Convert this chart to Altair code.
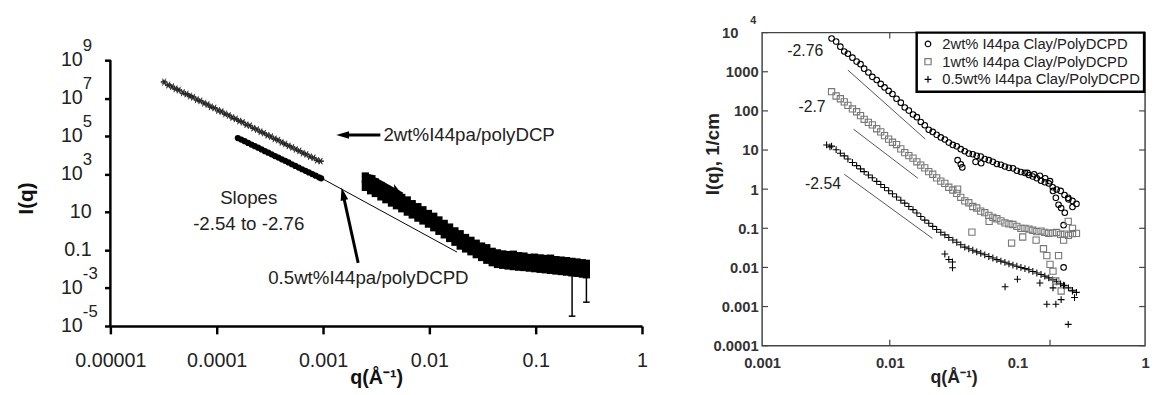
import altair as alt
import pandas as pd

FONT = "Liberation Sans"

# ======================= LEFT PANEL DATA =======================
L_q_low = [3.2e-5, 3.5e-5, 3.8e-5, 4.1e-5, 4.4e-5, 4.8e-5, 5.2e-5, 5.6e-5, 6.0e-5, 6.5e-5,
           7.0e-5, 7.6e-5, 8.2e-5, 8.8e-5, 9.5e-5, 1.03e-4, 1.11e-4, 1.2e-4, 1.3e-4, 1.4e-4,
           1.51e-4, 1.63e-4, 1.76e-4, 1.9e-4, 2.05e-4, 2.21e-4, 2.39e-4, 2.58e-4, 2.78e-4, 3.0e-4,
           3.24e-4, 3.5e-4, 3.78e-4, 4.08e-4, 4.4e-4, 4.75e-4, 5.13e-4, 5.54e-4, 5.98e-4, 6.46e-4,
           6.97e-4, 7.53e-4, 8.13e-4, 8.78e-4, 9.48e-4]
L_I_2wt_low = [6.5e7, 5.2e7, 3.8e7, 3.3e7, 2.5e7, 2.1e7, 1.55e7, 1.38e7, 1.05e7, 8.9e6,
               6.8e6, 5.8e6, 4.4e6, 3.7e6, 2.9e6, 2.4e6, 1.86e6, 1.58e6, 1.17e6, 1.02e6,
               7.6e5, 6.6e5, 5.1e5, 4.2e5, 3.4e5, 2.75e5, 2.1e5, 1.8e5, 1.38e5, 1.17e5,
               8.9e4, 7.6e4, 5.9e4, 4.9e4, 3.7e4, 3.2e4, 2.4e4, 2.1e4, 1.58e4, 1.35e4,
               1.05e4, 8.7e3, 6.9e3, 5.6e3, 4.6e3]
# second, slightly scattered set of the same 2wt low-q measurement
L_I_2wt_low_b = [7.6e7, 4.6e7, 4.3e7, 2.9e7, 2.8e7, 1.8e7, 1.75e7, 1.2e7, 1.2e7, 7.8e6,
                 7.6e6, 5.1e6, 4.9e6, 3.3e6, 3.2e6, 2.1e6, 2.1e6, 1.4e6, 1.3e6, 9.0e5,
                 8.5e5, 5.9e5, 5.6e5, 3.8e5, 3.7e5, 2.5e5, 2.35e5, 1.6e5, 1.5e5, 1.05e5,
                 1.0e5, 6.8e4, 6.5e4, 4.4e4, 4.1e4, 2.9e4, 2.7e4, 1.9e4, 1.75e4, 1.2e4,
                 1.15e4, 7.9e3, 7.6e3, 5.1e3, 5.0e3]
L_q_05 = [1.58e-4, 1.7e-4, 1.83e-4, 1.97e-4, 2.12e-4, 2.28e-4, 2.45e-4, 2.64e-4, 2.84e-4, 3.05e-4,
          3.28e-4, 3.53e-4, 3.8e-4, 4.09e-4, 4.4e-4, 4.73e-4, 5.09e-4, 5.48e-4, 5.9e-4, 6.35e-4,
          6.83e-4, 7.35e-4, 7.91e-4, 8.51e-4, 9.16e-4, 9.6e-4]
L_I_05 = [7.9e4, 6.6e4, 5.4e4, 4.4e4, 3.6e4, 2.95e4, 2.45e4, 2.0e4, 1.62e4, 1.35e4,
          1.1e4, 8.9e3, 7.4e3, 6.0e3, 5.0e3, 4.1e3, 3.3e3, 2.7e3, 2.2e3, 1.8e3,
          1.5e3, 1.23e3, 1.0e3, 830, 680, 600]
L_q_hq = [0.0025, 0.0028, 0.0031, 0.0035, 0.0039, 0.0044, 0.0049, 0.0055, 0.0062, 0.0069,
          0.0078, 0.0087, 0.0098, 0.011, 0.0123, 0.0138, 0.0155, 0.0174, 0.0195, 0.0219,
          0.0246, 0.0276, 0.031, 0.0347, 0.039, 0.0437, 0.049, 0.055, 0.0617, 0.0692,
          0.0776, 0.0871, 0.0977, 0.11, 0.123, 0.138, 0.155, 0.174, 0.195, 0.219,
          0.245, 0.275, 0.3]
L_I_hq_2wt = [660, 480, 320, 210, 140, 100, 71, 49, 36, 23,
              16, 11, 7.0, 5.0, 3.2, 2.1, 1.35, 0.85, 0.6, 0.38,
              0.27, 0.19, 0.135, 0.11, 0.071, 0.059, 0.052, 0.048, 0.05, 0.042,
              0.040, 0.034, 0.035, 0.032, 0.030, 0.031, 0.026, 0.0245, 0.023, 0.021,
              0.0195, 0.0178, 0.0166]
L_I_hq_05 = [240, 160, 115, 76, 54, 36, 26, 18, 12, 8.5,
             5.8, 4.1, 2.8, 1.8, 1.17, 0.76, 0.49, 0.31, 0.195, 0.138,
             0.098, 0.069, 0.049, 0.035, 0.026, 0.021, 0.019, 0.0174, 0.0162, 0.0151,
             0.0145, 0.0135, 0.0126, 0.0117, 0.011, 0.0102, 0.0095, 0.0089, 0.0083, 0.0076,
             0.0071, 0.0065, 0.006]
L_err_q = [0.22, 0.30]
L_err_lo = [3.3e-5, 1.8e-4]
L_err_hi = [0.02, 0.015]
L_fit = {"q": [7.4e-4], "I": [1380], "q2": [0.0182], "I2": [0.078]}
L_axis_line = {"I": [1e-5], "I2": [1e9]}

# annotation arrows (tail -> tip)
L_ann_arrow_q = [3.46e-3, 2.14e-3]
L_ann_arrow_I = [1.15e5, 0.021]
L_ann_arrow_q2 = [1.53e-3, 1.54e-3]
L_ann_arrow_I2 = [1.15e5, 91]
# arrow-shaped data tails at start of high-q data (tail -> head)
L_dat_arrow_q = [5.6e-3, 5.6e-3, 5.2e-3]
L_dat_arrow_I = [89, 27, 60]
L_dat_arrow_q2 = [2.75e-3, 2.82e-3, 4.84e-3]
L_dat_arrow_I2 = [820, 144, 162]

L_text = ["2wt%I44pa/polyDCP", "0.5wt%I44pa/polyDCPD", "Slopes", "-2.54 to -2.76"]
L_text_q = [3.7e-3, 2.67e-3, 2.0e-4, 2.0e-4]
L_text_I = [1.15e5, 3.5e-3, 55, 2.45]

L_xticks = [1e-5, 1e-4, 1e-3, 1e-2, 1e-1, 1]
L_yticks = [1e9, 1e7, 1e5, 1e3, 10, 0.1, 1e-3, 1e-5]
L_ybase = ["10", "10", "10", "10", "10", "0.1", "10", "10"]
L_yexp = ["9", "7", "5", "3", "", "", "-3", "-5"]

# ======================= RIGHT PANEL DATA =======================
R_names = ["2wt% I44pa Clay/PolyDCPD", "1wt% I44pa Clay/PolyDCPD", "0.5wt% I44pa Clay/PolyDCPD"]
R_q = [0.0035, 0.0038, 0.0041, 0.0044, 0.0047, 0.0051, 0.0055, 0.0059, 0.0063, 0.0068,
       0.0073, 0.0079, 0.0085, 0.0091, 0.0098, 0.0105, 0.0113, 0.0122, 0.0131, 0.0141,
       0.0152, 0.0163, 0.0175, 0.0188, 0.0202, 0.0217, 0.0233, 0.0251, 0.027, 0.029,
       0.0312, 0.0335, 0.036, 0.0387, 0.0416, 0.0447, 0.048, 0.0516, 0.0555, 0.0597,
       0.0642, 0.069, 0.0742, 0.0798, 0.0858, 0.0922, 0.099, 0.1065, 0.1145, 0.123,
       0.132, 0.142, 0.153, 0.164, 0.176, 0.189, 0.203, 0.218, 0.234, 0.251,
       0.27, 0.29]
R_I_2wt = [7080, 5900, 4370, 3300, 2880, 2290, 1820, 1560, 1200, 955,
           740, 617, 490, 398, 324, 270, 204, 162, 122, 102,
           81, 69, 52, 43, 33, 29, 24.5, 21, 18.6, 15.5,
           13.5, 12.4, 10.5, 9.3, 8.1, 7.8, 7.1, 6.8, 5.9, 5.5,
           5.0, 4.4, 4.2, 3.8, 3.5, 3.4, 2.95, 2.75, 2.6, 2.3,
           2.1, 1.9, 1.65, 1.5, 1.4, 1.12, 0.98, 0.9, 0.71, 0.55,
           0.5, 0.42]
R_I_1wt = [309, 240, 204, 170, 138, 112, 95, 76, 61, 51,
           44, 35, 29, 23.4, 19.0, 15.8, 13.8, 10.7, 8.6, 7.2,
           6.2, 5.0, 4.1, 3.5, 2.8, 2.4, 1.95, 1.6, 1.4, 1.12,
           0.95, 0.78, 0.62, 0.50, 0.45, 0.36, 0.33, 0.275, 0.25, 0.214,
           0.19, 0.175, 0.155, 0.138, 0.129, 0.125, 0.112, 0.1, 0.1, 0.095,
           0.089, 0.082, 0.085, 0.079, 0.074, 0.076, 0.078, 0.07, 0.071, 0.066,
           0.073, 0.074]
R_I_05 = [12.6, 10.2, 8.3, 7.1, 5.9, 4.8, 4.0, 3.3, 2.8, 2.3,
          1.95, 1.58, 1.32, 1.10, 0.91, 0.76, 0.63, 0.52, 0.44, 0.36,
          0.30, 0.245, 0.20, 0.162, 0.135, 0.112, 0.093, 0.079, 0.068, 0.058,
          0.050, 0.044, 0.038, 0.033, 0.030, 0.0275, 0.025, 0.023, 0.021, 0.019,
          0.0174, 0.0158, 0.0145, 0.0135, 0.0123, 0.0115, 0.0107, 0.01, 0.0093, 0.0087,
          0.0079, 0.0072, 0.0066, 0.006, 0.0054, 0.0048, 0.0043, 0.0038, 0.0034, 0.003,
          0.0026, 0.0023]
R_x2wt_q = [0.034, 0.036, 0.037, 0.047, 0.052, 0.12, 0.135, 0.15, 0.165, 0.18,
            0.19, 0.2, 0.21, 0.22, 0.235, 0.23, 0.23, 0.25, 0.27]
R_x2wt_I = [5.5, 4.3, 3.6, 5.0, 4.6, 2.6, 2.4, 2.2, 1.9, 1.6,
            0.9, 0.6, 0.4, 0.33, 0.25, 0.12, 0.01, 0.6, 0.35]
R_x1wt_q = [0.034, 0.044, 0.06, 0.09, 0.11, 0.14, 0.16, 0.17, 0.18, 0.19,
            0.2, 0.21, 0.22, 0.23, 0.25, 0.27]
R_x1wt_I = [1.0, 0.08, 0.15, 0.042, 0.06, 0.05, 0.03, 0.02, 0.012, 0.008,
            0.0045, 0.02, 0.0025, 0.05, 0.15, 0.1]
R_x05_q = [0.0032, 0.0034, 0.027, 0.029, 0.031, 0.031, 0.08, 0.1, 0.15, 0.17,
           0.19, 0.2, 0.22, 0.23, 0.25, 0.27, 0.28]
R_x05_I = [13.5, 12.0, 0.022, 0.016, 0.0138, 0.0098, 0.0032, 0.005, 0.004, 0.00115,
           0.003, 0.00115, 0.0015, 0.0035, 0.00035, 0.0025, 0.0017]
R_fit_q1 = [0.0047, 0.0052, 0.0044]
R_fit_I1 = [1100, 34, 2.4]
R_fit_q2 = [0.019, 0.0166, 0.0216]
R_fit_I2 = [19, 1.9, 0.055]
R_slope_text = ["-2.76", "-2.7", "-2.54"]
R_slope_q = [0.00218, 0.00246, 0.0030]
R_slope_I = [3300, 123, 1.34]
R_yticks = [1e4, 1e3, 100, 10, 1, 0.1, 0.01, 0.001, 0.0001]
R_xticks = [0.001, 0.01, 0.1, 1]
R_xtickmarks = [0.01, 0.18]

# ======================= LEFT PANEL =======================
LW, LH = 540, 298
L_xaxis = alt.Axis(values=L_xticks, format="~g", labelFont=FONT, labelFontSize=20, labelColor="#222",
                   labelPadding=17, tickSize=8, tickWidth=2.5, tickColor="black", domainColor="black",
                   domainWidth=2.5, grid=False, labelOverlap=False, labelFlush=False,
                   title="q(Å⁻¹)", titleFont=FONT, titleFontSize=20, titleFontWeight="bold",
                   titlePadding=-3, titleColor="#111")
L_yaxis = alt.Axis(values=L_yticks, labels=False, domain=False, tickSize=6, tickWidth=2.5,
                   tickColor="black", grid=False,
                   title="I(q)", titleFont=FONT, titleFontSize=21, titleFontWeight="bold",
                   titleColor="#111", titleX=-85, titleY=168, titleAngle=270, titleAlign="center",
                   titleBaseline="middle")
L_xs = alt.Scale(type="log", domain=[1e-5, 1], nice=False)
L_ys = alt.Scale(type="log", domain=[1e-5, 2.83e10], nice=False)


def LX():
    return alt.X("q:Q", scale=L_xs, axis=L_xaxis)


def LY():
    return alt.Y("I:Q", scale=L_ys, axis=L_yaxis)


df_low2 = pd.DataFrame({"q": L_q_low + L_q_low, "I": L_I_2wt_low + L_I_2wt_low_b})
df_low05 = pd.DataFrame({"q": L_q_05, "I": L_I_05})
df_hq = pd.DataFrame({"q": L_q_hq + L_q_hq, "I": L_I_hq_2wt + L_I_hq_05})
df_err = pd.DataFrame({"q": L_err_q, "I": L_err_lo, "I2": L_err_hi})
df_fit = pd.DataFrame(L_fit)
df_axis = pd.DataFrame(L_axis_line)
df_annarrow = pd.DataFrame({"q": L_ann_arrow_q, "I": L_ann_arrow_I, "q2": L_ann_arrow_q2, "I2": L_ann_arrow_I2})
df_datarrow = pd.DataFrame({"q": L_dat_arrow_q, "I": L_dat_arrow_I, "q2": L_dat_arrow_q2, "I2": L_dat_arrow_I2})
df_ltext = pd.DataFrame({"q": L_text_q, "I": L_text_I, "t": L_text})
df_ylab = pd.DataFrame({"I": L_yticks, "base": L_ybase, "exp": L_yexp})

ASTER = "M-1,0L1,0M-0.5,-0.87L0.5,0.87M-0.5,0.87L0.5,-0.87"
HEAD = "M0,-1L0.6,1L-0.6,1Z"
BAR = "M-0.7,-1L0.7,-1L0.7,1L-0.7,1Z"

l_axisline = alt.Chart(df_axis).mark_rule(color="black", strokeWidth=2.5).encode(
    x=alt.value(0), y=LY(), y2=alt.Y2("I2"))
l_low2 = alt.Chart(df_low2).mark_point(shape=ASTER, filled=False, size=45, strokeWidth=0.9,
                                       color="#222", opacity=1).encode(x=LX(), y=LY())
l_low05 = alt.Chart(df_low05).mark_point(shape="circle", filled=True, size=40, color="black",
                                         opacity=1).encode(x=LX(), y=LY())
l_hq = alt.Chart(df_hq).mark_point(shape=BAR, filled=True, size=110, color="black",
                                   opacity=1).encode(x=LX(), y=LY())
l_err = alt.Chart(df_err).mark_rule(color="black", strokeWidth=1.5).encode(
    x=LX(), y=LY(), y2=alt.Y2("I2"))
l_cap = alt.Chart(df_err).mark_point(shape="M-1,0L1,0", filled=False, size=45, strokeWidth=1.5,
                                     color="black", opacity=1).encode(x=LX(), y=LY())
l_fit = alt.Chart(df_fit).mark_rule(color="black", strokeWidth=1).encode(
    x=LX(), y=LY(), x2=alt.X2("q2"), y2=alt.Y2("I2"))
l_annarrow = alt.Chart(df_annarrow).mark_rule(color="black", strokeWidth=3).encode(
    x=LX(), y=LY(), x2=alt.X2("q2"), y2=alt.Y2("I2"))
l_datarrow = alt.Chart(df_datarrow).mark_rule(color="black", strokeWidth=3).encode(
    x=LX(), y=LY(), x2=alt.X2("q2"), y2=alt.Y2("I2"))

heads = []
for i, ang in enumerate([270, 347]):
    d = pd.DataFrame({"q": [L_ann_arrow_q2[i]], "I": [L_ann_arrow_I2[i]]})
    heads.append(alt.Chart(d).mark_point(shape=HEAD, filled=True, size=170, angle=ang, color="black",
                                         opacity=1).encode(x=LX(), y=LY()))
for i, ang in enumerate([299, 293, 340]):
    d = pd.DataFrame({"q": [L_dat_arrow_q2[i]], "I": [L_dat_arrow_I2[i]]})
    heads.append(alt.Chart(d).mark_point(shape=HEAD, filled=True, size=120, angle=ang, color="black",
                                         opacity=1).encode(x=LX(), y=LY()))

l_t1 = alt.Chart(df_ltext.iloc[[0]]).mark_text(align="left", baseline="middle", font=FONT, fontSize=19,
                                               color="#222").encode(x=LX(), y=LY(), text="t:N")
l_t2 = alt.Chart(df_ltext.iloc[1:]).mark_text(align="center", baseline="middle", font=FONT, fontSize=19,
                                              color="#222").encode(x=LX(), y=LY(), text="t:N")
l_ybase = alt.Chart(df_ylab[df_ylab.exp != ""]).mark_text(align="right", baseline="middle", font=FONT,
                                                          fontSize=20, color="#222").encode(
    x=alt.value(-28), y=LY(), text="base:N")
l_yexp = alt.Chart(df_ylab[df_ylab.exp != ""]).mark_text(align="left", baseline="middle", font=FONT,
                                                         fontSize=17, dy=-14, color="#222").encode(
    x=alt.value(-28), y=LY(), text="exp:N")
l_yplain = alt.Chart(df_ylab[df_ylab.exp == ""]).mark_text(align="right", baseline="middle", font=FONT,
                                                           fontSize=20, color="#222").encode(
    x=alt.value(-19), y=LY(), text="base:N")

left = alt.layer(l_axisline, l_fit, l_low2, l_low05, l_hq, l_err, l_cap, l_annarrow, l_datarrow, *heads,
                 l_t1, l_t2, l_ybase, l_yexp, l_yplain).properties(
    width=LW, height=LH, view=alt.ViewBackground(strokeWidth=0))

# ======================= RIGHT PANEL =======================
RW, RH = 389, 318
R_xs = alt.Scale(type="log", domain=[0.001, 1], nice=False)
R_ys = alt.Scale(type="log", domain=[1e-4, 1e4], nice=False)
R_xaxis = alt.Axis(values=R_xticks, ticks=False, domain=False, grid=False, format="~g",
                   labelFont=FONT, labelFontSize=15, labelFontWeight="bold", labelColor="#333",
                   labelPadding=10, labelFlush=False, labelOverlap=False,
                   title="q(Å⁻¹)", titleFont=FONT, titleFontSize=18, titleFontWeight="bold",
                   titleColor="#222", titlePadding=-2)
R_yaxis = alt.Axis(values=R_yticks, ticks=False, domain=False, grid=False, format="~g",
                   labelExpr="datum.value >= 10000 ? '' : datum.label",
                   labelFont=FONT, labelFontSize=15, labelFontWeight="bold", labelColor="#333",
                   labelPadding=4, labelFlush=False, labelOverlap=False,
                   title="I(q), 1/cm", titleFont=FONT, titleFontSize=19, titleFontWeight="bold",
                   titleColor="#222", titleX=-50, titleY=123, titleAngle=270, titleAlign="center",
                   titleBaseline="middle")


def RX():
    return alt.X("q:Q", scale=R_xs, axis=R_xaxis)


def RY():
    return alt.Y("I:Q", scale=R_ys, axis=R_yaxis)


rows = []
for name, Ilist in zip(R_names, [R_I_2wt, R_I_1wt, R_I_05]):
    rows += [{"q": q, "I": v, "series": name} for q, v in zip(R_q, Ilist)]
for name, ql, Il in zip(R_names, [R_x2wt_q, R_x1wt_q, R_x05_q], [R_x2wt_I, R_x1wt_I, R_x05_I]):
    rows += [{"q": q, "I": v, "series": name} for q, v in zip(ql, Il)]
df_r = pd.DataFrame(rows)
df_rfit = pd.DataFrame({"q": R_fit_q1, "I": R_fit_I1, "q2": R_fit_q2, "I2": R_fit_I2})
df_rslope = pd.DataFrame({"q": R_slope_q, "I": R_slope_I, "t": R_slope_text})
df_ryt = pd.DataFrame({"I": R_yticks})
df_rxt = pd.DataFrame({"q": R_xtickmarks})

PLUS = "M-1,0L1,0M0,-1L0,1"
leg = alt.Legend(title=None, orient="none", legendX=157, legendY=0, strokeColor="black",
                 fillColor="white", padding=4, labelFont=FONT, labelFontSize=15, labelColor="#222",
                 symbolSize=30, symbolStrokeWidth=1.2, rowPadding=2, labelOffset=7, labelLimit=400)

r_pts = alt.Chart(df_r).mark_point(filled=False, strokeWidth=1.1, opacity=1).encode(
    x=RX(), y=RY(),
    shape=alt.Shape("series:N", scale=alt.Scale(domain=R_names, range=["circle", "square", PLUS]), legend=leg),
    stroke=alt.Stroke("series:N", scale=alt.Scale(domain=R_names, range=["#000000", "#777777", "#000000"]),
                      legend=leg),
    size=alt.Size("series:N", scale=alt.Scale(domain=R_names, range=[32, 48, 50]), legend=leg),
)
r_fit = alt.Chart(df_rfit).mark_rule(color="#555", strokeWidth=1).encode(
    x=RX(), y=RY(), x2=alt.X2("q2"), y2=alt.Y2("I2"))
r_slope = alt.Chart(df_rslope).mark_text(align="center", baseline="middle", font=FONT, fontSize=16,
                                         color="#222").encode(x=RX(), y=RY(), text="t:N")
TK = "#444"
r_tl = alt.Chart(df_ryt).mark_rule(color=TK, strokeWidth=1.2).encode(y=RY(), x=alt.value(0), x2=alt.value(6))
r_tr = alt.Chart(df_ryt).mark_rule(color=TK, strokeWidth=1.2).encode(y=RY(), x=alt.value(RW - 6),
                                                                      x2=alt.value(RW))
r_tb = alt.Chart(df_rxt).mark_rule(color=TK, strokeWidth=1.2).encode(x=RX(), y=alt.value(RH - 6),
                                                                      y2=alt.value(RH))
r_tt = alt.Chart(df_rxt).mark_rule(color=TK, strokeWidth=1.2).encode(x=RX(), y=alt.value(0), y2=alt.value(6))
df_top = pd.DataFrame({"I": [R_yticks[0]], "base": ["10"], "exp": ["4"]})
r_topb = alt.Chart(df_top).mark_text(align="right", baseline="middle", font=FONT, fontSize=15,
                                     fontWeight="bold", color="#333").encode(
    x=alt.value(-24), y=RY(), text="base:N")
r_tope = alt.Chart(df_top).mark_text(align="left", baseline="middle", font=FONT, fontSize=11,
                                     fontWeight="bold", dy=-12, color="#333").encode(
    x=alt.value(-12), y=RY(), text="exp:N")

right = alt.layer(r_fit, r_pts, r_slope, r_tl, r_tr, r_tb, r_tt, r_topb, r_tope).properties(
    width=RW, height=RH, view=alt.ViewBackground(stroke="#444", strokeWidth=1.5))

chart = alt.hconcat(left, right, spacing=56).resolve_legend(
    shape="independent", stroke="independent", size="independent"
).properties(
    padding={"left": 8, "top": 3, "right": 0, "bottom": 0}
).configure(font=FONT).configure_view(strokeWidth=0).configure_legend(strokeWidth=2.5)

chart.save("out.html", embed_options={"renderer": "svg", "actions": False})
